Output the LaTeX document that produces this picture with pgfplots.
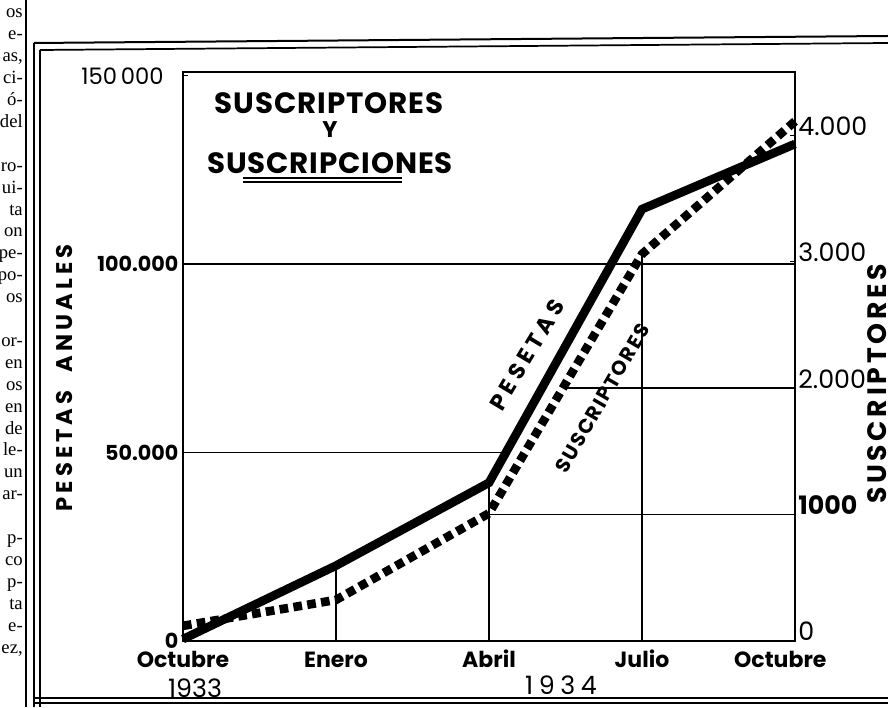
\documentclass[border=0pt]{standalone}
\usepackage{pgfplots}
\pgfplotsset{compat=1.18}
\usepackage{fontspec}
\setmainfont{Poppins}
\newfontfamily\serif{Liberation Serif}
\begin{document}
\begin{tikzpicture}
\begin{scope}[x=0.75pt,y=0.75pt]
% neighbouring newspaper column (cut off)
\foreach \t [count=\i] in {os,e-,{as,},ci-,ó-,del,{},ro-,ui-,ta,on,pe-,po-,os,{},or-,en,os,en,de,le-,un,ar-,{},p-,co,p-,ta,e-,{ez,},{}}
  \node[anchor=base east, inner sep=0pt, font=\serif\fontsize{14}{16}\selectfont] at (23,{689-21.9*(\i-1)}) {\t};
% frame rules
\draw[line width=0.8pt] (26,707) -- (26,0);
\draw[line width=1.5pt] (34,664) -- (888,671);
\draw[line width=1.3pt] (40,657) -- (888,664);
\draw[line width=1.3pt] (34,664) -- (34,0);
\draw[line width=1.3pt] (40,657) -- (40,0);
\draw[line width=1.5pt] (34,9) -- (888,9);
\draw[line width=1.0pt] (34,4) -- (888,4);
\end{scope}

\begin{axis}[
  at={(137.25pt,49.5pt)}, anchor=south west,
  scale only axis, width=459pt, height=426.75pt,
  xmin=0, xmax=4, ymin=0, ymax=151000,
  axis line style={line width=1.3pt},
  xtick={0,1,2,3,4},
  xticklabels={Octubre, Enero, Abril, Julio, Octubre\hspace*{22pt}},
  xtick style={draw=none},
  xticklabel style={font=\fontsize{16.5}{18}\selectfont\bfseries, text height=12pt, text depth=0pt, yshift=-4.5pt},
  ytick={0,50000,100000,150000},
  yticklabels={0,50.000,100.000,{\mdseries\fontsize{17}{19}\selectfont 150\,000\hspace*{11pt}}},
  scaled y ticks=false,
  ytick pos=left, xtick pos=bottom,
  yticklabel style={font=\fontsize{15.5}{17}\selectfont\bfseries},
  major tick length=4pt, tick style={line width=1pt, black},
  clip=false,
]
\draw[line width=1.1pt] (axis cs:0,100000) -- (axis cs:4,100000);
\draw[line width=1.1pt] (axis cs:0,50000) -- (axis cs:2.1,50000);
\draw[line width=1.1pt] (axis cs:1,0) -- (axis cs:1,20000);
\draw[line width=1.1pt] (axis cs:2,0) -- (axis cs:2,42000);
\draw[line width=1.1pt] (axis cs:3,0) -- (axis cs:3,103000);
\addplot[line width=6.5pt, black] coordinates {(0,500) (1,20000) (2,42000) (3,114600) (4,131900)};
\node[rotate=59, font=\fontsize{17}{19}\selectfont\bfseries\addfontfeatures{LetterSpace=20}] at (axis cs:2.25,75900) {PESETAS};
\node[rotate=60, font=\fontsize{15}{17}\selectfont\bfseries\addfontfeatures{LetterSpace=9}] at (axis cs:2.74,64400) {SUSCRIPTORES};
\end{axis}

\begin{axis}[
  at={(137.25pt,49.5pt)}, anchor=south west,
  scale only axis, width=459pt, height=426.75pt,
  xmin=0, xmax=4, ymin=0, ymax=4500,
  axis x line=none, axis y line*=right,
  axis line style={line width=1.3pt},
  ytick={0,1000,2000,3000,4000},
  yticklabels={0,\bfseries 1000,2.000,3.000,4.000},
  yticklabel style={anchor=west, yshift=7pt, xshift=-1pt, font=\fontsize{19}{21}\selectfont},
  major tick length=4pt, tick style={line width=1pt, black},
  clip=false,
]
\draw[line width=1.1pt] (axis cs:2,1000) -- (axis cs:4,1000);
\draw[line width=1.1pt] (axis cs:2.49,2000) -- (axis cs:4,2000);
\addplot[line width=6.5pt, black, dash pattern=on 6.5pt off 4pt] coordinates {(0,120) (1,325) (2,1010) (3,3060) (4,4110)};
\end{axis}

\begin{scope}[x=0.75pt,y=0.75pt]
% titles and labels
\node[font=\fontsize{22}{24}\selectfont\bfseries\addfontfeatures{LetterSpace=3}] at (329,604) {SUSCRIPTORES};
\node[font=\fontsize{17}{18}\selectfont\bfseries] at (330,577) {Y};
\node[font=\fontsize{22}{24}\selectfont\bfseries\addfontfeatures{LetterSpace=3}] at (330,544) {SUSCRIPCIONES};
\draw[line width=1.3pt] (243,529) -- (402,529);
\draw[line width=1.3pt] (243,525) -- (402,525);
\node[rotate=90, font=\fontsize{17}{19}\selectfont\bfseries\addfontfeatures{LetterSpace=18}] at (65,329) {PESETAS\ \ ANUALES};
\node[rotate=90, font=\fontsize{20}{22}\selectfont\bfseries\addfontfeatures{LetterSpace=14}] at (877,323) {SUSCRIPTORES};
\node[font=\fontsize{19}{21}\selectfont] at (195,19) {1933};
\node[font=\fontsize{19}{21}\selectfont\addfontfeatures{LetterSpace=22}] at (561,22) {1934};
\end{scope}
\pgfresetboundingbox
\path[use as bounding box] (0,0) rectangle (666pt,530.25pt);
\end{tikzpicture}
\end{document}
